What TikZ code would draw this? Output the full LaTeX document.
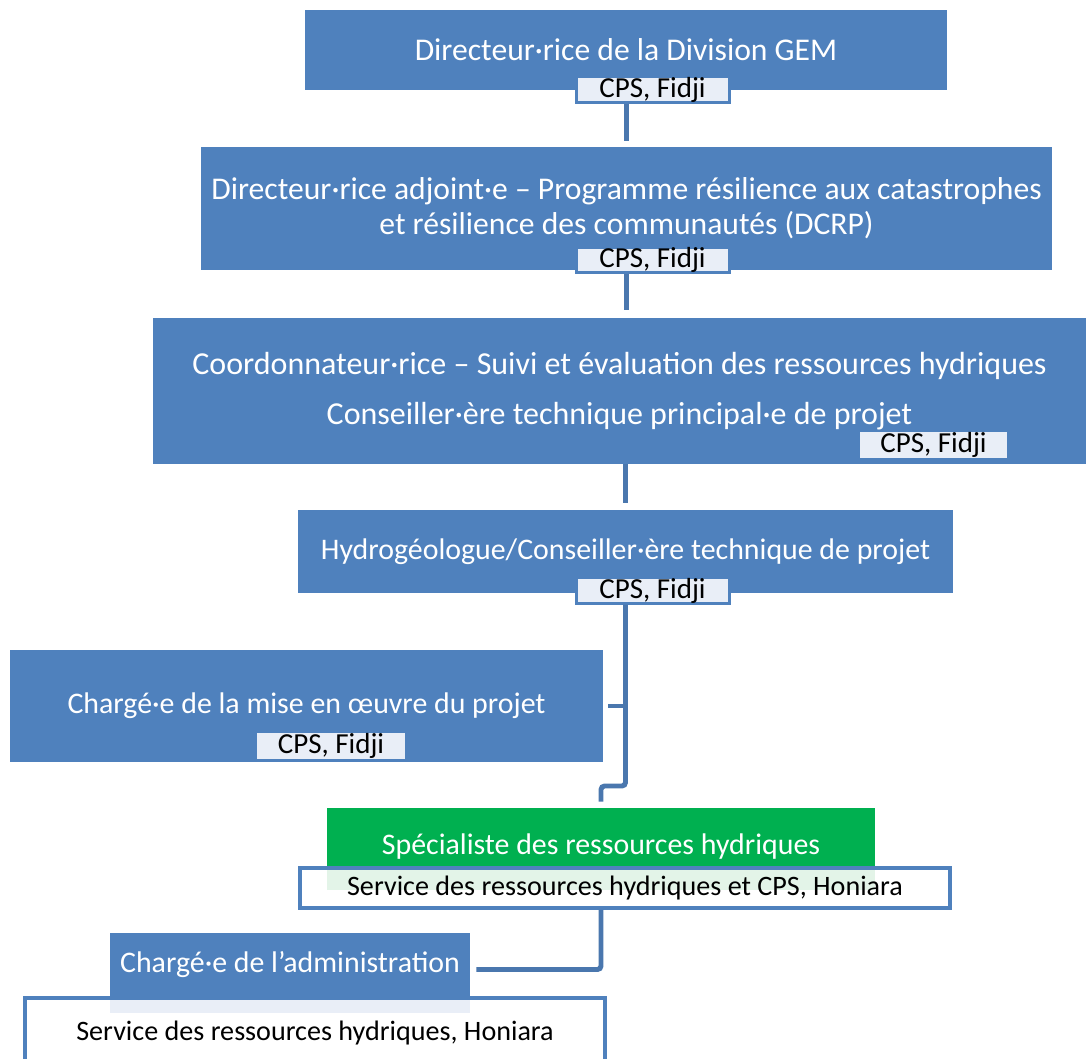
\documentclass[tikz,border=0pt]{standalone}
\usepackage{fontspec}
\setmainfont{Carlito}
\usetikzlibrary{calc,positioning}
\definecolor{gemblue}{HTML}{4F81BD}
\definecolor{gemline}{HTML}{4A77AE}
\definecolor{gemgreen}{HTML}{00B050}
\definecolor{gemtint}{HTML}{E9EEF7}
\definecolor{gemgreentint}{HTML}{E3F4E8}

\begin{document}
\begin{tikzpicture}[
		posbox/.style={fill=gemblue, text=white, inner sep=0pt, align=center, font=\fontsize{17}{20}\selectfont},
		cpsbox/.style={fill=gemtint, draw=gemblue, line width=1.7pt, inner sep=0pt, minimum width=3.06cm, minimum height=0.5cm, font=\fontsize{16.5}{18}\selectfont},
		cpsflat/.style={fill=gemtint, inner sep=0pt, minimum height=0.46cm, font=\fontsize{16.5}{18}\selectfont},
		sitebox/.style={draw=gemblue, line width=2.2pt, inner sep=0pt, font=\fontsize{16}{18}\selectfont},
		conn/.style={draw=gemline, line width=2.8pt}
	]
		%%%%% START %%%%%
		\useasboundingbox (0,0) rectangle (21.72,-21.16);
		
		\node[posbox, minimum width=12.84cm, minimum height=1.6cm, font=\fontsize{18}{22}\selectfont] (dir) at (12.52,-1.00) {Directeur·rice de la Division GEM};
		\node[cpsbox] (dircps) at (13.05,-1.79) {CPS, Fidji};
		
		\node[posbox, minimum width=17.02cm, minimum height=2.46cm, font=\fontsize{18}{19.8}\selectfont] (dep) at (12.53,-4.17) {Directeur·rice adjoint·e – Programme résilience aux catastrophes\\et résilience des communautés (DCRP)};
		\node[cpsbox] (depcps) at (13.05,-5.20) {CPS, Fidji};
		
		\node[posbox, minimum width=18.66cm, minimum height=2.92cm, font=\fontsize{18.2}{22}\selectfont] (coord) at (12.39,-7.82) {Coordonnateur·rice – Suivi et évaluation des ressources hydriques\\[6.3pt]Conseiller·ère technique principal·e de projet};
		\node[cpsflat, minimum width=2.94cm] (coordcps) at (18.67,-8.90) {CPS, Fidji};
		
		\node[posbox, minimum width=13.10cm, minimum height=1.66cm] (hyd) at (12.51,-11.03) {Hydrogéologue/Conseiller·ère technique de projet};
		\node[cpsbox] (hydcps) at (13.05,-11.81) {CPS, Fidji};
		
		\node[posbox, minimum width=11.86cm, minimum height=2.24cm] (impl) at (6.13,-14.12) {Chargé·e de la mise en œuvre du projet};
		\node[cpsflat, minimum width=2.96cm] (implcps) at (6.62,-14.92) {CPS, Fidji};
		
		\node[posbox, fill=gemgreen, minimum width=10.96cm, minimum height=1.2cm, text height=22pt] (spec) at (12.02,-16.76) {Spécialiste des ressources hydriques};
		\fill[gemgreentint] (spec.south west) rectangle ++(10.96,-0.44);
		\node[sitebox, minimum width=13.0cm, minimum height=0.8cm] (specsite) at (12.5,-17.76) {Service des ressources hydriques et CPS, Honiara};
		
		\node[posbox, minimum width=7.2cm, minimum height=1.26cm] (admin) at (5.8,-19.29) {Chargé·e de l’administration};
		\fill[gemtint] (admin.south west) rectangle ++(7.2,-0.34);
		\node[sitebox, minimum width=11.6cm, minimum height=1.4cm] (adminsite) at (6.3,-20.66) {Service des ressources hydriques, Honiara};
		
		\draw[conn, shorten >=0.12cm] (dircps.south -| dep.north) -- (dep.north);
		\draw[conn, shorten >=0.16cm] (depcps.south -| dep.south) -- (dep.south |- coord.north);
		\draw[conn, shorten >=0.14cm] (coord.south -| hyd.north) -- (hyd.north);
		
		\coordinate (bend) at (0,-15.72);
		\draw[conn, rounded corners=2pt] (hydcps.south -| hyd.south) -- (hyd.south |- bend) -| ([yshift=0.12cm]spec.north);
		\draw[conn] (hyd.south |- impl.east) -- ([xshift=0.1cm]impl.east);
		\draw[conn, rounded corners=2pt] (specsite.south -| spec.south) |- ([shift={(0.12,-0.1)}]admin.east);
		
		%%%%% END %%%%%
\end{tikzpicture}
\end{document}
